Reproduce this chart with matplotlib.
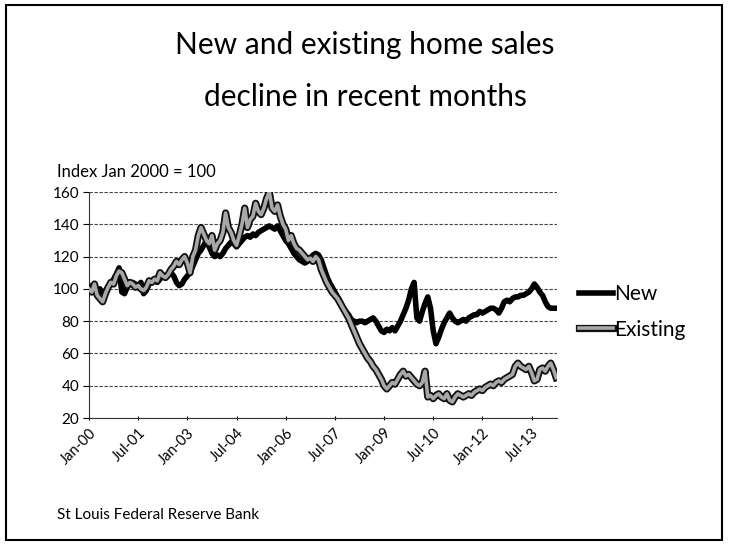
import matplotlib
matplotlib.use('Agg')
import matplotlib.pyplot as plt
import matplotlib.patheffects as pe
from matplotlib.patches import Rectangle

plt.rcParams['font.family'] = ['Lato', 'DejaVu Sans']

# monthly index values, Jan 2000 .. Apr 2014 (Jan 2000 = 100)
new_sales = [
    100, 102, 100, 98, 100, 97, 99, 101, 103, 106, 109, 113,   # 2000
    98, 97, 101, 103, 104, 103, 102, 104, 97, 99, 103, 104,    # 2001
    105, 104, 106, 108, 107, 109, 110, 108, 104, 102, 103, 106,  # 2002
    108, 110, 114, 118, 122, 124, 127, 130, 126, 122, 120, 121,  # 2003
    120, 122, 125, 127, 129, 128, 126, 128, 130, 132, 133, 132,  # 2004
    134, 133, 135, 136, 137, 138, 139, 138, 137, 139, 136, 133,  # 2005
    130, 128, 125, 122, 120, 118, 117, 116, 117, 119, 121, 122,  # 2006
    121, 118, 113, 108, 104, 101, 98, 95, 92, 88, 86, 84,        # 2007
    81, 80, 79, 80, 80, 79, 80, 81, 82, 80, 77, 74,              # 2008
    73, 75, 74, 76, 74, 77, 80, 84, 88, 93, 100, 104,            # 2009
    82, 80, 86, 91, 95, 88, 74, 66, 70, 75, 79, 82,              # 2010
    85, 82, 80, 79, 80, 81, 80, 82, 83, 84, 84, 86,              # 2011
    85, 86, 87, 88, 88, 87, 85, 88, 92, 93, 92, 94,              # 2012
    95, 95, 96, 96, 97, 98, 100, 103, 101, 98, 96, 92,           # 2013
    89, 88, 88, 88,                                              # 2014
]
existing_sales = [
    100, 98, 103, 96, 94, 92, 97, 101, 104, 103, 108, 111,       # 2000
    110, 106, 102, 104, 103, 101, 102, 100, 99, 101, 105, 104,   # 2001
    106, 105, 110, 108, 107, 109, 112, 114, 117, 115, 118, 120,  # 2002
    116, 110, 120, 124, 133, 138, 134, 130, 128, 133, 124, 128,  # 2003
    130, 135, 147, 138, 135, 130, 127, 133, 140, 150, 138, 143,  # 2004
    145, 153, 148, 146, 150, 156, 160, 150, 148, 152, 145, 140,  # 2005
    137, 130, 133, 128, 125, 124, 122, 120, 118, 119, 117, 120,  # 2006
    118, 112, 108, 104, 101, 98, 96, 94, 91, 88, 85, 82,         # 2007
    78, 74, 70, 66, 63, 60, 57, 55, 52, 50, 47, 44,              # 2008
    40, 38, 40, 42, 41, 44, 47, 49, 46, 47, 45, 43,              # 2009
    41, 40, 42, 49, 33, 34, 32, 34, 35, 33, 32, 35,              # 2010
    31, 30, 33, 35, 34, 33, 34, 35, 34, 36, 37, 38,              # 2011
    37, 39, 40, 41, 40, 42, 43, 42, 44, 45, 46, 47,              # 2012
    52, 54, 52, 51, 50, 52, 48, 43, 44, 50, 51, 49,              # 2013
    52, 54, 50, 45,                                              # 2014
]
tick_months = [0, 18, 36, 54, 72, 90, 108, 126, 144, 162]
tick_labels = ['Jan-00', 'Jul-01', 'Jan-03', 'Jul-04', 'Jan-06',
               'Jul-07', 'Jan-09', 'Jul-10', 'Jan-12', 'Jul-13']
y_ticks = [20, 40, 60, 80, 100, 120, 140, 160]

months = list(range(len(new_sales)))

fig = plt.figure(figsize=(7.31, 5.52), dpi=100)
ax = fig.add_axes([89 / 731, 1 - 418 / 552, 468 / 731, 226 / 552])

ax.plot(months, new_sales, color='black', lw=4, label='New',
        solid_joinstyle='round', zorder=3)
ax.plot(months, existing_sales, color='#a8a8a8', lw=2.6, label='Existing',
        solid_joinstyle='round', zorder=4,
        path_effects=[pe.Stroke(linewidth=5.2, foreground='#111111'), pe.Normal()])

ax.set_ylim(20, 160)
ax.set_xlim(0, 171.3)
ax.set_yticks(y_ticks)
ax.set_xticks(tick_months)
ax.set_xticklabels(tick_labels, rotation=45, ha='right', rotation_mode='anchor')
ax.tick_params(axis='y', labelsize=11, length=4, width=0.8, pad=3)
ax.tick_params(axis='x', labelsize=10.5, length=3, width=0.8, direction='inout', pad=4)

ax.grid(axis='y', color='#444444', lw=0.8, linestyle=(0, (3, 1.5)))
ax.set_axisbelow(True)
for s in ['top', 'right']:
    ax.spines[s].set_visible(False)
ax.spines['left'].set_color('#333333')
ax.spines['bottom'].set_color('#333333')
ax.spines['left'].set_linestyle((0, (3, 1)))
ax.spines['bottom'].set_linestyle((0, (5, 1)))

ax.legend(loc='center left', bbox_to_anchor=(1.008, 0.47), frameon=False,
          fontsize=15, handlelength=1.6, handletextpad=0.05, labelspacing=0.75)

fig.text(365 / 731, 1 - 45 / 552, 'New and existing home sales', ha='center', va='center',
         fontsize=21.5)
fig.text(365 / 731, 1 - 97 / 552, 'decline in recent months', ha='center', va='center',
         fontsize=21.5)
fig.text(57 / 731, 1 - 172 / 552, 'Index Jan 2000 = 100', ha='left', va='center', fontsize=12)
fig.text(57 / 731, 1 - 515 / 552, 'St Louis Federal Reserve Bank', ha='left', va='center',
         fontsize=11)

fig.add_artist(Rectangle((6 / 731, 1 - 540 / 552), 716 / 731, 535 / 552,
                         transform=fig.transFigure, fill=False, ec='black', lw=1.5))

fig.savefig('out.png', dpi=100)
